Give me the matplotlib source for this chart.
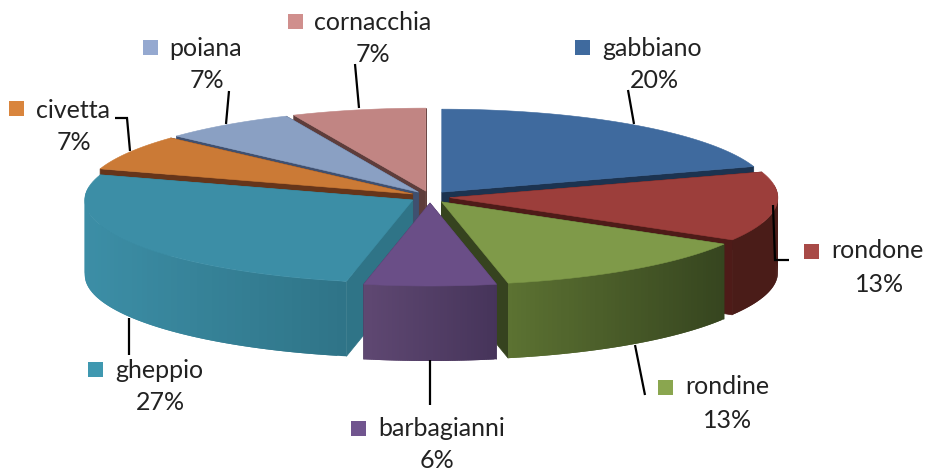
import numpy as np
import matplotlib
matplotlib.use("Agg")
import matplotlib.pyplot as plt
from matplotlib.patches import Polygon, Rectangle

# ---- data ----
birds = ["gabbiano", "rondone", "rondine", "barbagianni", "gheppio", "civetta", "poiana", "cornacchia"]
shares = [20.0, 13.49, 13.26, 6.49, 26.66, 6.9, 6.6, 6.6]

# ---- styles ----
top_col = ["#3F6A9E", "#9C3E3B", "#7F9A49", "#6A4E87", "#3C8EA6", "#CB7A36", "#8AA0C3", "#C18583"]
cut_col = ["#1C3350", "#4E1B18", "#36431F", "#47345A", "#2F7487", "#66351A", "#3F5070", "#5E3D3B"]
wall_l = ["#27456A", "#4A1C18", "#5C7232", "#5F4872", "#3C8EA6", "#66351A", "#3F5070", "#5E3D3B"]
wall_r = ["#27456A", "#4A1C18", "#36451F", "#46345A", "#2F7487", "#66351A", "#3F5070", "#5E3D3B"]
key_col = ["#3F6A9E", "#A84A47", "#8AA64F", "#71558F", "#3F98B0", "#D9853D", "#95A9D0", "#D08F8D"]

CX, CY = 430.0, 197.0
A, B = 328.0, 83.0
EX, EY = 20.0, 6.0
DEPTH = 75.0

# key x, key y, text x, text y, pct x, pct y
layout = {
    "gabbiano": (582, 47, 602, 49, 654, 81),
    "rondone": (811, 251, 831, 251, 880, 284),
    "rondine": (665, 387, 685, 387, 728, 420),
    "barbagianni": (358, 428, 378, 428, 437, 460),
    "gheppio": (95, 369, 115, 370, 160, 403),
    "civetta": (16, 108, 36, 110, 74, 143),
    "poiana": (150, 47, 169, 48, 207, 81),
    "cornacchia": (295, 21, 314, 22, 373, 55),
}
leaders = {
    "gabbiano": [(628, 90), (634, 124)],
    "rondone": [(773, 205), (775, 260), (789, 260)],
    "rondine": [(635, 345), (645, 395)],
    "barbagianni": [(430, 360), (430, 405)],
    "gheppio": [(129, 318), (129, 355)],
    "civetta": [(115, 118), (127, 118), (130, 151)],
    "poiana": [(229, 91), (226, 124)],
    "cornacchia": [(355, 64), (359, 108)],
}

fig = plt.figure(figsize=(9.25, 4.7), dpi=100, facecolor="white")
ax = fig.add_axes([0, 0, 1, 1])
ax.set_xlim(0, 925)
ax.set_ylim(470, 0)
ax.axis("off")

values = np.array(shares, dtype=float)
edges = np.concatenate([[0], np.cumsum(values)]) / values.sum() * 2 * np.pi


def hex2rgb(c):
    return np.array(matplotlib.colors.to_rgb(c))


def wedge(i):
    t0, t1 = edges[i], edges[i + 1]
    mid = (t0 + t1) / 2
    ax0 = CX + EX * np.sin(mid)
    ay0 = CY - EY * np.cos(mid)
    ts = np.linspace(t0, t1, 60)
    xs = ax0 + A * np.sin(ts)
    ys = ay0 - B * np.cos(ts)
    # cut faces
    for k in (0, -1):
        ax.add_patch(Polygon([(ax0, ay0), (xs[k], ys[k]), (xs[k], ys[k] + DEPTH), (ax0, ay0 + DEPTH)],
                             closed=True, fc=cut_col[i], ec=cut_col[i], lw=0.5))
    # outer wall, overlapping strips so no seams show
    cl, cr = hex2rgb(wall_l[i]), hex2rgb(wall_r[i])
    n = len(ts)
    for j in range(n - 1):
        tm = (ts[j] + ts[j + 1]) / 2
        if not (np.pi / 2 - 0.15 < tm < 3 * np.pi / 2 + 0.15):
            continue
        e = min(j + 2, n - 1)
        f = (xs.max() - (xs[j] + xs[j + 1]) / 2) / max(xs.max() - xs.min(), 1)
        col = cr + (cl - cr) * f
        ax.add_patch(Polygon([(xs[j], ys[j]), (xs[e], ys[e]),
                              (xs[e], ys[e] + DEPTH), (xs[j], ys[j] + DEPTH)],
                             closed=True, fc=col, ec="none", lw=0))
    # top face
    ax.add_patch(Polygon(np.column_stack([np.r_[ax0, xs], np.r_[ay0, ys]]),
                         closed=True, fc=top_col[i], ec=top_col[i], lw=0.4))


for i in [7, 6, 5, 0, 1, 4, 2, 3]:
    wedge(i)

for name in birds:
    pts = np.array(leaders[name])
    ax.plot(pts[:, 0], pts[:, 1], color="black", lw=1.6, solid_capstyle="butt", solid_joinstyle="miter", zorder=5)

FONT = "Lato"
for i, name in enumerate(birds):
    kx, ky, tx, ty, px, py = layout[name]
    ax.add_patch(Rectangle((kx - 7.5, ky - 7.5), 15, 15, fc=key_col[i], ec="none", zorder=6))
    ax.text(tx, ty, name, family=FONT, fontsize=18, color="#222222", ha="left", va="center", zorder=6)
    pct = f"{round(values[i] / values.sum() * 100)}%"
    ax.text(px, py, pct, family=FONT, fontsize=18, color="#222222", ha="center", va="center", zorder=6)

fig.savefig("out.png", dpi=100, facecolor="white")
